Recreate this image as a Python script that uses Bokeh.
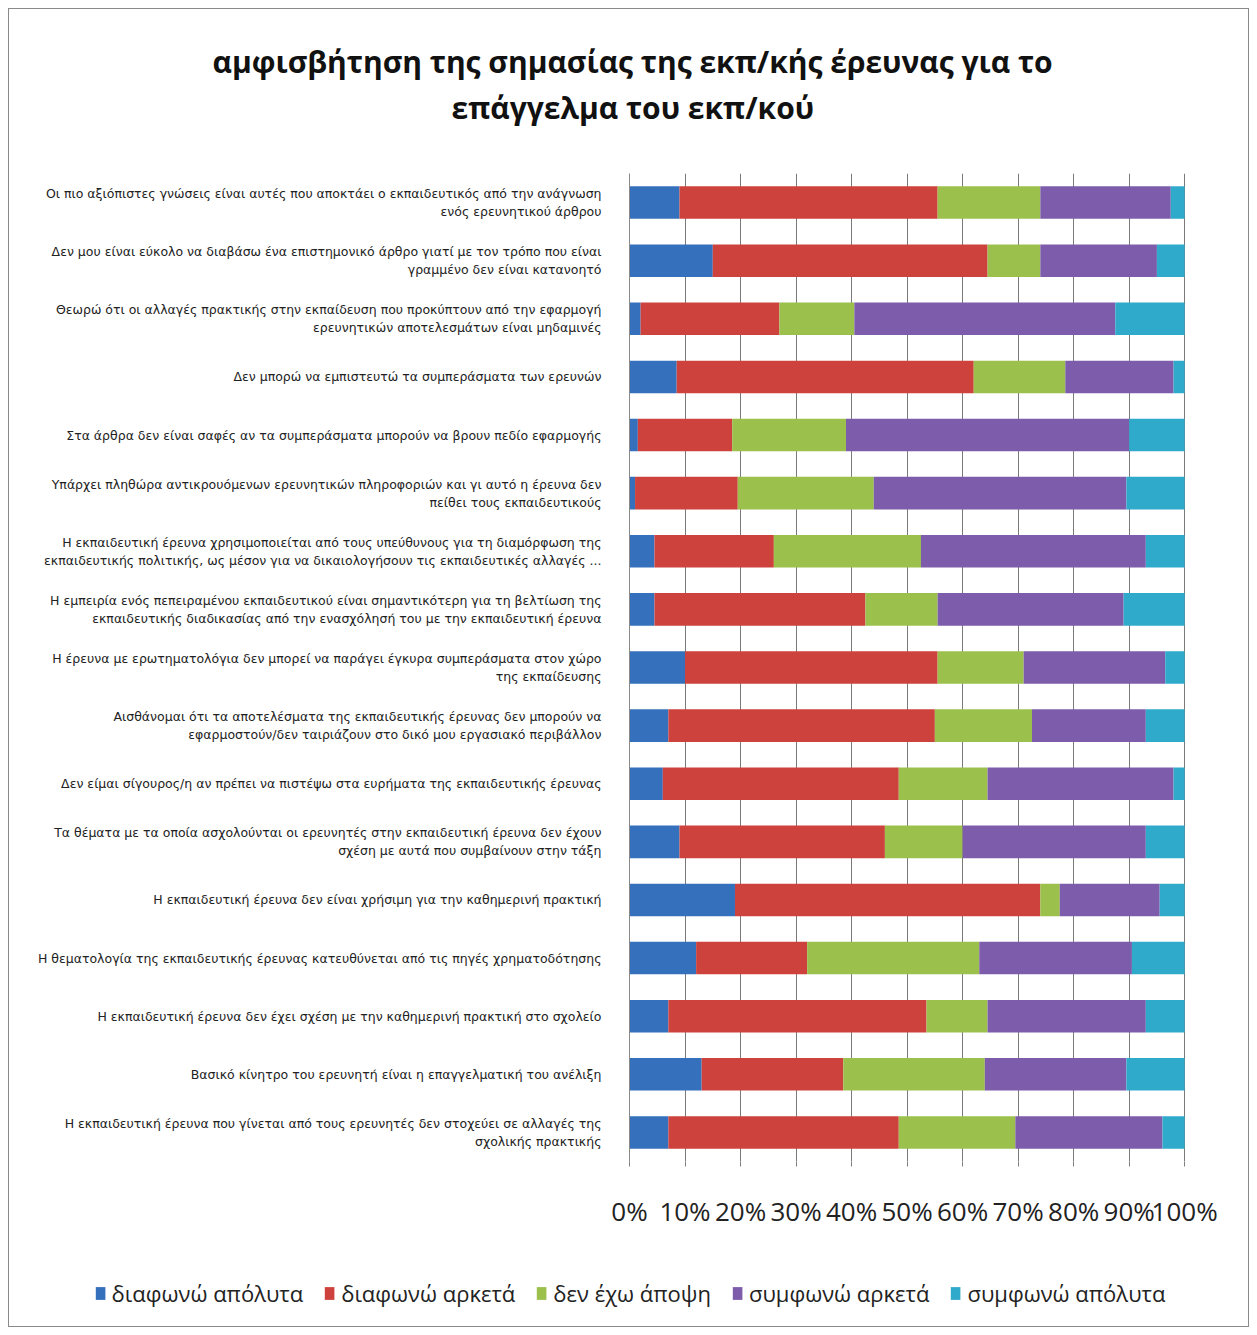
from bokeh.plotting import figure
from bokeh.models import (FactorRange, FixedTicker, PrintfTickFormatter,
                          Legend, LegendItem, Title, ColumnDataSource, Range1d)
from bokeh.embed import file_html
from bokeh.resources import INLINE

# Statements, listed top to bottom as they appear on the chart
statements = [
    "Οι πιο αξιόπιστες γνώσεις είναι αυτές που αποκτάει ο εκπαιδευτικός από την ανάγνωση\nενός ερευνητικού άρθρου",
    "Δεν μου είναι εύκολο να διαβάσω ένα επιστημονικό άρθρο γιατί με τον τρόπο που είναι\nγραμμένο δεν είναι κατανοητό",
    "Θεωρώ ότι οι αλλαγές πρακτικής στην εκπαίδευση που προκύπτουν από την εφαρμογή\nερευνητικών αποτελεσμάτων είναι μηδαμινές",
    "Δεν μπορώ να εμπιστευτώ τα συμπεράσματα των ερευνών",
    "Στα άρθρα δεν είναι σαφές αν τα συμπεράσματα μπορούν να βρουν πεδίο εφαρμογής",
    "Υπάρχει πληθώρα αντικρουόμενων ερευνητικών πληροφοριών και γι αυτό η έρευνα δεν\nπείθει τους εκπαιδευτικούς",
    "Η εκπαιδευτική έρευνα χρησιμοποιείται από τους υπεύθυνους για τη διαμόρφωση της\nεκπαιδευτικής πολιτικής, ως μέσον για να δικαιολογήσουν τις εκπαιδευτικές αλλαγές ...",
    "Η εμπειρία ενός πεπειραμένου εκπαιδευτικού είναι σημαντικότερη για τη βελτίωση της\nεκπαιδευτικής διαδικασίας από την ενασχόλησή του με την εκπαιδευτική έρευνα",
    "Η έρευνα με ερωτηματολόγια δεν μπορεί να παράγει έγκυρα συμπεράσματα στον χώρο\nτης εκπαίδευσης",
    "Αισθάνομαι ότι τα αποτελέσματα της εκπαιδευτικής έρευνας δεν μπορούν να\nεφαρμοστούν/δεν ταιριάζουν στο δικό μου εργασιακό περιβάλλον",
    "Δεν είμαι σίγουρος/η αν πρέπει να πιστέψω στα ευρήματα της εκπαιδευτικής έρευνας",
    "Τα θέματα με τα οποία ασχολούνται οι ερευνητές στην εκπαιδευτική έρευνα δεν έχουν\nσχέση με αυτά που συμβαίνουν στην τάξη",
    "Η εκπαιδευτική έρευνα δεν είναι χρήσιμη για την καθημερινή πρακτική",
    "Η θεματολογία της εκπαιδευτικής έρευνας κατευθύνεται από τις πηγές χρηματοδότησης",
    "Η εκπαιδευτική έρευνα δεν έχει σχέση με την καθημερινή πρακτική στο σχολείο",
    "Βασικό κίνητρο του ερευνητή είναι η επαγγελματική του ανέλιξη",
    "Η εκπαιδευτική έρευνα που γίνεται από τους ερευνητές δεν στοχεύει σε αλλαγές της\nσχολικής πρακτικής",
]

# Response shares (%) per statement, same order as above
diafono_apolyta = [9, 15, 2, 8.5, 1.5, 1, 4.5, 4.5, 10, 7, 6, 9, 19, 12, 7, 13, 7]
diafono_arketa = [46.5, 49.5, 25, 53.5, 17, 18.5, 21.5, 38, 45.5, 48, 42.5, 37, 55, 20, 46.5, 25.5, 41.5]
den_exo_apopsi = [18.5, 9.5, 13.5, 16.5, 20.5, 24.5, 26.5, 13, 15.5, 17.5, 16, 14, 3.5, 31, 11, 25.5, 21]
symfono_arketa = [23.5, 21, 47, 19.5, 51, 45.5, 40.5, 33.5, 25.5, 20.5, 33.5, 33, 18, 27.5, 28.5, 25.5, 26.5]
symfono_apolyta = [2.5, 5, 12.5, 2, 10, 10.5, 7, 11, 3.5, 7, 2, 7, 4.5, 9.5, 7, 10.5, 4]

series_names = ["διαφωνώ απόλυτα", "διαφωνώ αρκετά", "δεν έχω άποψη",
                "συμφωνώ αρκετά", "συμφωνώ απόλυτα"]
series_keys = ["d_apol", "d_ark", "neutral", "s_ark", "s_apol"]
colors = ["#3570bd", "#cd423d", "#9bc04c", "#7d5cab", "#30aacb"]

x_ticks = [0, 10, 20, 30, 40, 50, 60, 70, 80, 90, 100]

title_lines = ["αμφισβήτηση της σημασίας της εκπ/κής έρευνας για το",
               "επάγγελμα του εκπ/κού"]

source = ColumnDataSource(dict(
    q=statements,
    d_apol=diafono_apolyta,
    d_ark=diafono_arketa,
    neutral=den_exo_apopsi,
    s_ark=symfono_arketa,
    s_apol=symfono_apolyta,
))

frame_border = "1px solid #8a8a8a"

p = figure(
    width=1241, height=1250,
    y_range=FactorRange(factors=list(reversed(statements))),
    x_range=(0, 100.15),
    output_backend="svg", toolbar_location=None,
    min_border_left=620, min_border_right=65,
    min_border_top=164, min_border_bottom=98,
)
p.margin = (8, 8, 0, 8)
p.styles = {"border-top": frame_border, "border-left": frame_border,
            "border-right": frame_border}
p.outline_line_color = None
p.background_fill_color = "white"

p.hbar_stack(series_keys, y="q", height=0.56, color=colors,
             line_color=None, source=source)

# Title block: a spacer next to the bars, then the two title lines,
# each shifted so it sits centred on the whole chart
title_style = dict(text_font="Open Sans", text_font_size="30px",
                   text_font_style="bold", text_color="#111111", align="left")
p.add_layout(Title(text=" ", text_font_size="10px", standoff=31), "above")
p.add_layout(Title(text=title_lines[1], offset=-178, standoff=3, **title_style), "above")
p.add_layout(Title(text=title_lines[0], offset=-417, standoff=3, **title_style), "above")

# x axis: percentages
p.xaxis.ticker = FixedTicker(ticks=x_ticks)
p.xaxis.formatter = PrintfTickFormatter(format="%d%%")
p.xaxis.axis_line_color = None
p.xaxis.major_tick_line_color = "#7f7f7f"
p.xaxis.major_tick_out = 5
p.xaxis.major_tick_in = 0
p.xaxis.minor_tick_line_color = None
p.xaxis.major_label_standoff = 26
p.xaxis.major_label_text_font = "Open Sans"
p.xaxis.major_label_text_font_size = "26px"
p.xaxis.major_label_text_color = "#222222"

# y axis: statements
p.yaxis.axis_line_color = "#8a8a8a"
p.yaxis.major_tick_line_color = None
p.yaxis.minor_tick_line_color = None
p.yaxis.major_label_standoff = 22
p.yaxis.major_label_text_font = "DejaVu Sans"
p.yaxis.major_label_text_font_size = "12.5px"
p.yaxis.major_label_text_color = "#222222"

p.xgrid.grid_line_color = "#7a7a7a"
p.xgrid.grid_line_width = 1
p.ygrid.grid_line_color = None

# Legend strip under the chart, spanning its full width.  It carries its
# own copy of the stacked bars, kept outside its (empty) viewing window,
# so only the legend swatches show.
legend_fig = figure(width=1241, height=69, x_axis_type=None, y_axis_type=None,
                    y_range=FactorRange(factors=list(reversed(statements))),
                    x_range=Range1d(-20, -10),
                    output_backend="svg", toolbar_location=None,
                    min_border=0, outline_line_color=None)
legend_fig.margin = (0, 8, 8, 8)
legend_fig.styles = {"border-bottom": frame_border, "border-left": frame_border,
                     "border-right": frame_border}
legend_renderers = legend_fig.hbar_stack(series_keys, y="q", height=0.56,
                                         color=colors, line_color=None,
                                         source=source)
legend = Legend(
    items=[LegendItem(label=n, renderers=[r])
           for n, r in zip(series_names, legend_renderers)],
    orientation="horizontal", location="center",
    label_text_font="Open Sans", label_text_font_size="22px",
    label_text_color="#222222",
    glyph_width=12, glyph_height=16, label_standoff=6, spacing=20,
    padding=0, margin=0, border_line_color=None, background_fill_alpha=0,
)
legend_fig.add_layout(legend, "center")

open("out.html", "w").write(file_html([p, legend_fig], INLINE))
